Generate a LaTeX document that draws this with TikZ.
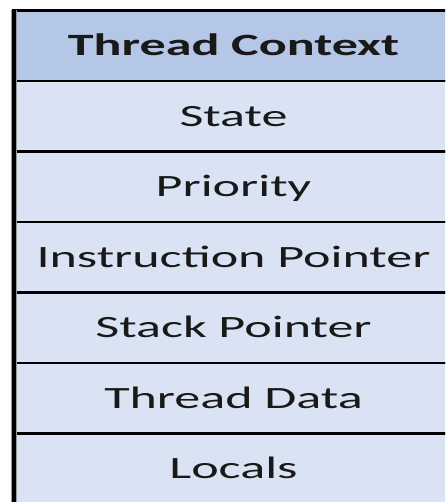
\documentclass[tikz,border=0pt]{standalone}
\usepackage{fontspec}
\newfontfamily\rowfont{Carlito}[FakeStretch=1.68]
\definecolor{headblue}{RGB}{180,199,231}
\definecolor{bodyblue}{RGB}{218,227,243}
\tikzset{
  cell/.style={draw=black, line width=2.5pt, fill=bodyblue, anchor=north west,
    minimum width=440pt, minimum height=70.5pt, inner sep=0pt, outer sep=0pt,
    text height=20pt, text depth=0pt, text=black!90,
    font=\rowfont\fontsize{31}{31}\selectfont},
  headcell/.style={cell, fill=headblue, font=\rowfont\bfseries\fontsize{31}{31}\selectfont},
  edge/.style={line width=4pt, black, line cap=butt}
}
\begin{document}
\begin{tikzpicture}[x=1pt,y=-1pt]
\useasboundingbox (0,0) rectangle (445,502);
\clip (0,0) rectangle (445,502);
\node[headcell] (head) at (13.5,10.5) {Thread Context};
\node[cell] (state) at (13.5,81) {State};
\node[cell] (prio) at (13.5,151.5) {Priority};
\node[cell] (ip) at (13.5,222) {Instruction Pointer};
\node[cell] (sp) at (13.5,292.5) {Stack Pointer};
\node[cell] (data) at (13.5,363) {Thread Data};
\node[cell] (loc) at (13.5,433.5) {Locals};
\coordinate (bot) at (13.5,520);
\draw[line width=6pt, black!40] (head.north west) -- (head.north west |- bot);
\draw[edge] (head.north west) -- (head.north west |- bot);
\end{tikzpicture}
\end{document}
